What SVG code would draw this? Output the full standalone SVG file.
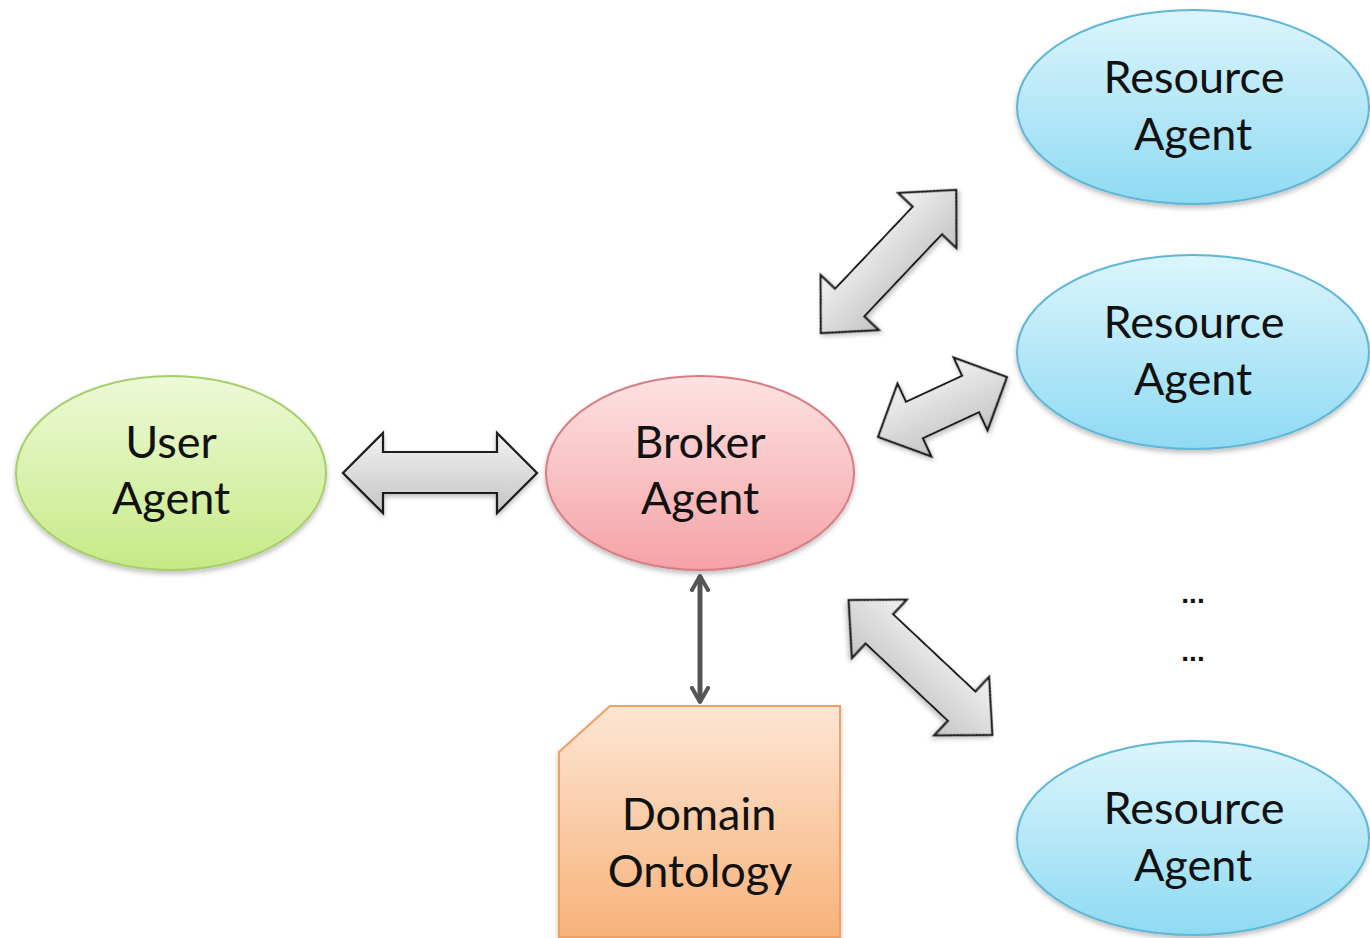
<svg xmlns="http://www.w3.org/2000/svg" width="1370" height="938" viewBox="0 0 1370 938">
  <defs>
    <linearGradient id="gUser" x1="0" y1="0" x2="0" y2="1">
      <stop offset="0" stop-color="#eef9d8"/>
      <stop offset="1" stop-color="#c6ea86"/>
    </linearGradient>
    <linearGradient id="gBroker" x1="0" y1="0" x2="0" y2="1">
      <stop offset="0" stop-color="#fde2e2"/>
      <stop offset="1" stop-color="#f5a2a6"/>
    </linearGradient>
    <linearGradient id="gRes" x1="0" y1="0" x2="0" y2="1">
      <stop offset="0" stop-color="#dcf5fc"/>
      <stop offset="1" stop-color="#8fdaf3"/>
    </linearGradient>
    <linearGradient id="gOnto" x1="0" y1="0" x2="0" y2="1">
      <stop offset="0" stop-color="#fde6d4"/>
      <stop offset="1" stop-color="#f8b27a"/>
    </linearGradient>
    <linearGradient id="gArrow" x1="0" y1="0" x2="0" y2="1">
      <stop offset="0" stop-color="#f2f2f2"/>
      <stop offset="1" stop-color="#c4c4c4"/>
    </linearGradient>
    <filter id="shadow" x="-10%" y="-10%" width="120%" height="130%">
      <feDropShadow dx="0" dy="3" stdDeviation="2.5" flood-color="#000" flood-opacity="0.25"/>
    </filter>
    <marker id="vHead" viewBox="0 0 10 10" refX="8" refY="5" markerWidth="4" markerHeight="4" orient="auto-start-reverse" markerUnits="strokeWidth">
      <path d="M1,1 L8,5 L1,9" fill="none" stroke="#555" stroke-width="2" stroke-linecap="round" stroke-linejoin="round"/>
    </marker>
  </defs>
  <style>
    .lbl { font-family: Lato, "Liberation Sans", sans-serif; font-size: 45px; fill: #111; text-anchor: middle; }
    .dots { font-family: "Liberation Sans", sans-serif; font-size: 28px; font-weight: bold; fill: #111; text-anchor: middle; }
    .node { filter: url(#shadow); }
    .blk { fill: url(#gArrow); stroke: #1a1a1a; stroke-width: 2.2; stroke-linejoin: miter; filter: url(#shadow); }
  </style>

  <rect width="1370" height="938" fill="#ffffff"/>

  <!-- connectors -->
  <g id="connectors">
    <!-- user <-> broker -->
    <polygon class="blk" points="343,473 383,433 383,452 497,452 497,433 537,473 497,513 497,493 383,493 383,513"/>
    <!-- broker <-> resource agents (double block arrows drawn along local x) -->
    <g transform="translate(888.5,261.5) rotate(-46.6)">
      <polygon class="blk" points="-98.5,0 -56.5,-40 -56.5,-20 56.5,-20 56.5,-40 98.5,0 56.5,40 56.5,20 -56.5,20 -56.5,40"/>
    </g>
    <g transform="translate(942.5,407) rotate(-24.9)">
      <polygon class="blk" points="-71,0 -31,-40 -31,-20 31,-20 31,-40 71,0 31,40 31,20 -31,20 -31,40"/>
    </g>
    <g transform="translate(920.5,667.5) rotate(43.2)">
      <polygon class="blk" points="-98.5,0 -56.5,-40 -56.5,-20 56.5,-20 56.5,-40 98.5,0 56.5,40 56.5,20 -56.5,20 -56.5,40"/>
    </g>
    <!-- broker <-> ontology -->
    <line x1="700" y1="576" x2="700" y2="702" stroke="#555" stroke-width="5" marker-start="url(#vHead)" marker-end="url(#vHead)"/>
  </g>

  <g id="user-agent">
    <ellipse class="node" cx="171" cy="473" rx="155" ry="97" fill="url(#gUser)" stroke="#a6cf6c" stroke-width="2"/>
    <text class="lbl" x="171" y="458">User</text>
    <text class="lbl" x="171" y="514">Agent</text>
  </g>

  <g id="broker-agent">
    <ellipse class="node" cx="700" cy="473" rx="154" ry="97" fill="url(#gBroker)" stroke="#d67e84" stroke-width="2"/>
    <text class="lbl" x="700" y="458">Broker</text>
    <text class="lbl" x="700" y="514">Agent</text>
  </g>

  <g id="resource-agent-1">
    <ellipse class="node" cx="1193" cy="107" rx="176" ry="97" fill="url(#gRes)" stroke="#5fb6d6" stroke-width="2"/>
    <text class="lbl" x="1194" y="93">Resource</text>
    <text class="lbl" x="1193" y="150">Agent</text>
  </g>

  <g id="resource-agent-2">
    <ellipse class="node" cx="1193" cy="352" rx="176" ry="97" fill="url(#gRes)" stroke="#5fb6d6" stroke-width="2"/>
    <text class="lbl" x="1194" y="338">Resource</text>
    <text class="lbl" x="1193" y="395">Agent</text>
  </g>

  <g id="more-agents">
    <text class="dots" x="1193" y="603">...</text>
    <text class="dots" x="1193" y="661">...</text>
  </g>

  <g id="resource-agent-n">
    <ellipse class="node" cx="1193" cy="838" rx="176" ry="97" fill="url(#gRes)" stroke="#5fb6d6" stroke-width="2"/>
    <text class="lbl" x="1194" y="824">Resource</text>
    <text class="lbl" x="1193" y="881">Agent</text>
  </g>

  <g id="domain-ontology">
    <polygon class="node" points="610,706 840,706 840,937 559,937 559,752" fill="url(#gOnto)" stroke="#eea066" stroke-width="2"/>
    <text class="lbl" x="699" y="830">Domain</text>
    <text class="lbl" x="700" y="887">Ontology</text>
  </g>
</svg>
